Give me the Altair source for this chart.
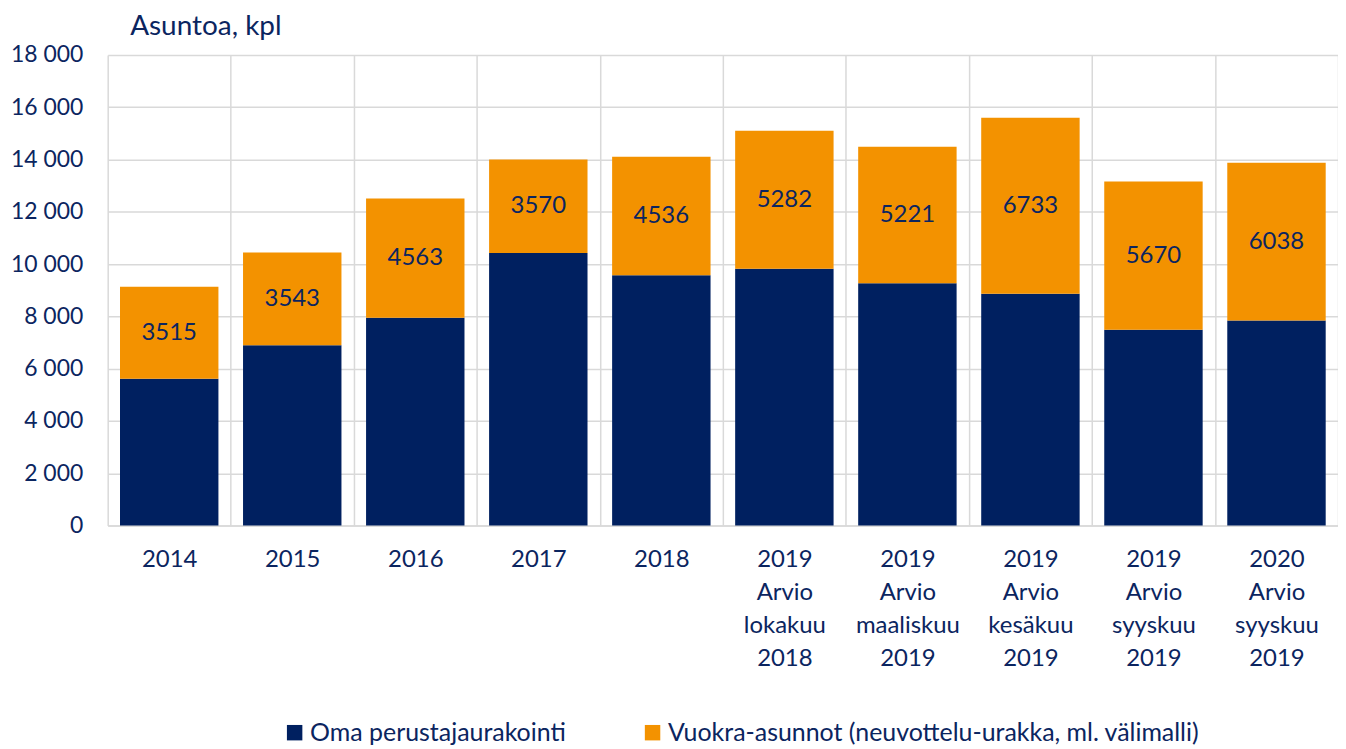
import altair as alt
import pandas as pd

categories = ["2014", "2015", "2016", "2017", "2018",
              "2019|Arvio|lokakuu|2018", "2019|Arvio|maaliskuu|2019",
              "2019|Arvio|kesäkuu|2019", "2019|Arvio|syyskuu|2019",
              "2020|Arvio|syyskuu|2019"]
oma = [5620, 6900, 7950, 10430, 9570, 9820, 9270, 8870, 7490, 7840]
vuokra = [3515, 3543, 4563, 3570, 4536, 5282, 5221, 6733, 5670, 6038]
series = ["Oma perustajaurakointi", "Vuokra-asunnot (neuvottelu-urakka, ml. välimalli)"]
colors = ["#002060", "#F39200"]

rows = []
for c, a, b in zip(categories, oma, vuokra):
    rows.append({"cat": c, "series": series[0], "value": a, "ord": 0, "mid": None})
    rows.append({"cat": c, "series": series[1], "value": b, "ord": 1, "mid": a + b / 2})
df = pd.DataFrame(rows)

FONT = "Lato"
TXT = "#0B2560"
GRID = "#D9D9D9"

x = alt.X("cat:N", sort=categories, title=None,
          scale=alt.Scale(paddingInner=0, paddingOuter=0),
          axis=alt.Axis(labelAngle=0, labelExpr="split(datum.label, '|')",
                        labelFont=FONT, labelFontSize=24, labelColor=TXT,
                        labelLineHeight=33, labelPadding=22, labelBaseline="top",
                        ticks=False, domain=True, domainColor=GRID, domainWidth=1.5,
                        grid=True, gridColor=GRID, gridWidth=1.5, tickBand="extent"))

bars = alt.Chart(df).mark_bar(width=alt.RelativeBandSize(0.8)).encode(
    x=x,
    y=alt.Y("value:Q", stack="zero",
            scale=alt.Scale(domain=[0, 18000], nice=False),
            axis=alt.Axis(values=list(range(0, 18001, 2000)),
                          labelExpr="replace(format(datum.value, ','), ',', ' ')",
                          labelFont=FONT, labelFontSize=23, labelColor=TXT,
                          labelPadding=25, ticks=False, domain=False,
                          grid=True, gridColor=GRID, gridWidth=1.5,
                          title="Asuntoa, kpl", titleAngle=0, titleAlign="left",
                          titleBaseline="middle", titleX=22, titleY=-29,
                          titleFont=FONT, titleFontSize=28, titleFontWeight="normal",
                          titleColor=TXT)),
    color=alt.Color("series:N", sort=series,
                    scale=alt.Scale(domain=series, range=colors),
                    legend=alt.Legend(title=None, orient="none", direction="horizontal",
                                      legendX=175, legendY=667,
                                      symbolType="square", symbolSize=240,
                                      symbolStrokeWidth=0, symbolOpacity=1,
                                      labelFont=FONT, labelFontSize=25, labelColor=TXT,
                                      columnPadding=74, labelOffset=3, labelLimit=700)),
    order=alt.Order("ord:Q"),
)

labels = alt.Chart(df).transform_filter("datum.ord == 1").mark_text(
    font=FONT, fontSize=24, color=TXT, baseline="middle", align="center"
).encode(
    x=alt.X("cat:N", sort=categories),
    y=alt.Y("mid:Q"),
    text=alt.Text("value:Q", format="d"),
)

chart = alt.layer(bars, labels).properties(
    width=1234, height=472,
    autosize=alt.AutoSizeParams(type="none"),
    padding={"left": 100, "top": 46, "right": 0, "bottom": 223},
    background="white",
).configure_view(stroke=None)

chart.save("out.html", embed_options={"renderer": "svg", "actions": False})
